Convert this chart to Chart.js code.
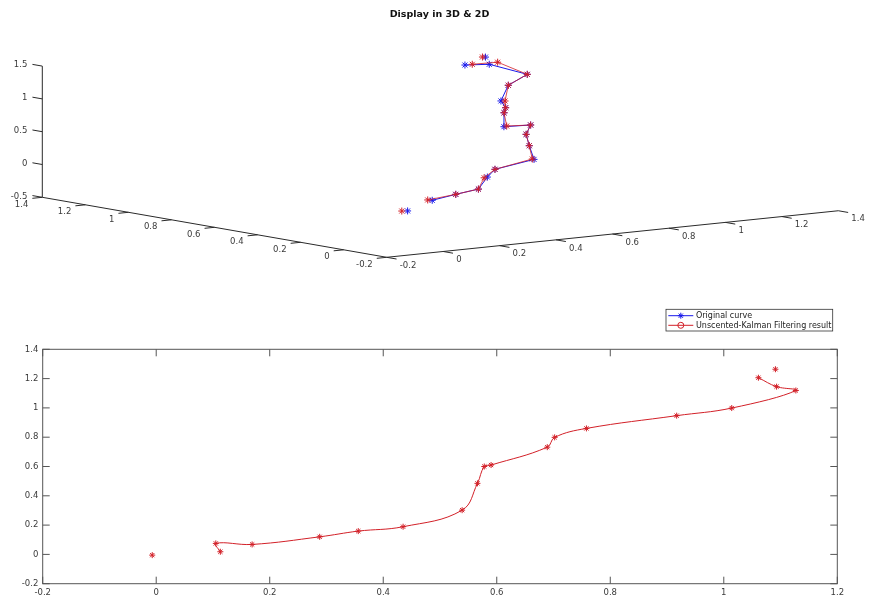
<!DOCTYPE html>
<html>
<head>
<meta charset="utf-8">
<script src="https://cdn.jsdelivr.net/npm/chart.js@4.4.0/dist/chart.umd.min.js"></script>
<style>
  html, body { margin: 0; padding: 0; background: #fff; }
  #wrap { position: relative; width: 869px; height: 601px; overflow: hidden; }
  #top3d { position: absolute; left: 0; top: 0; }
  #bottom2d { position: absolute; left: 0; top: 290px; }
</style>
</head>
<body>
<div id="wrap">
  <canvas id="top3d" width="869" height="290"></canvas>
  <canvas id="bottom2d" width="869" height="311"></canvas>
</div>
<script>
// Upper axes: 3D curve (x runs to the right, y to the left, z up)
const origX = [-0.007, 0.11, 0.288, 0.356, 0.435, 0.539, 0.566, 0.585, 0.689, 0.702, 0.73, 0.758, 0.83, 0.917, 1.014, 1.127, 1.093, 1.061, 1.091];
const origY = [-0.044, -0.005, 0.119, 0.103, 0.165, 0.266, 0.12, 0.167, 0.318, 0.314, 0.475, 0.511, 0.598, 0.734, 0.827, 0.887, 1.019, 1.09, 1.034];
const origZ = [0.032, 0.12, 0.061, 0.12, 0.233, 0.247, 0.47, 0.643, 0.684, 0.823, 0.692, 0.872, 0.867, 0.854, 0.997, 1.079, 1.172, 1.134, 1.274];

const filtX = [-0.007, 0.11, 0.288, 0.356, 0.435, 0.539, 0.566, 0.585, 0.689, 0.702, 0.73, 0.758, 0.83, 0.917, 1.014, 1.127, 1.093, 1.061, 1.091];
const filtY = [-0.017, 0.016, 0.119, 0.103, 0.18, 0.266, 0.128, 0.167, 0.318, 0.314, 0.462, 0.511, 0.598, 0.715, 0.827, 0.887, 0.98, 1.056, 1.048];
const filtZ = [0.015, 0.113, 0.061, 0.12, 0.213, 0.247, 0.471, 0.643, 0.684, 0.823, 0.71, 0.872, 0.867, 0.864, 0.997, 1.079, 1.226, 1.165, 1.267];

// Lower axes: 2D view of the filtered result
const planeX = [-0.007, 0.113, 0.105, 0.169, 0.288, 0.356, 0.435, 0.539, 0.566, 0.578, 0.590, 0.689, 0.702, 0.758, 0.917, 1.014, 1.127, 1.093, 1.061, 1.091];
const planeY = [-0.005, 0.018, 0.075, 0.068, 0.120, 0.159, 0.189, 0.302, 0.485, 0.600, 0.610, 0.732, 0.799, 0.860, 0.947, 0.999, 1.119, 1.145, 1.206, 1.264];

// tick labels
const xTicks3d = [-0.2, 0, 0.2, 0.4, 0.6, 0.8, 1, 1.2, 1.4];
const yTicks3d = [-0.2, 0, 0.2, 0.4, 0.6, 0.8, 1, 1.2, 1.4];
const zTicks3d = [-0.5, 0, 0.5, 1, 1.5];
const xTicks2d = [-0.2, 0, 0.2, 0.4, 0.6, 0.8, 1, 1.2];
const yTicks2d = [-0.2, 0, 0.2, 0.4, 0.6, 0.8, 1, 1.2, 1.4];

const seriesNames = ['Original curve', 'Unscented-Kalman Filtering result'];
const titleText = 'Display in 3D & 2D';

const BLUE = 'rgb(25,25,235)';
const RED = 'rgb(210,32,40)';
const AXIS = '#2a2a2a';
const LABEL = '#3a3a3a';
const FONT = '"DejaVu Sans", sans-serif';

// view of the 3D box: screen direction of one unit along each data axis
const viewX = [2.8225, 0.291];
const viewY = [-2.1525, 0.375];
const viewZ = [0, 0.656];
const boxMin = [xTicks3d[0], yTicks3d[0], zTicks3d[0]];

function project(x, y, z) {
    const dx = x - boxMin[0], dy = y - boxMin[1], dz = z - boxMin[2];
    return {
        x: dx * viewX[0] + dy * viewY[0] + dz * viewZ[0],
        y: dx * viewX[1] + dy * viewY[1] + dz * viewZ[1]
    };
}

function toPoints(xs, ys, zs) {
    return xs.map((x, i) => project(x, ys[i], zs[i]));
}

// first and last samples are not joined to the curve
function hideEnds(n, color) {
    return ctx => (ctx.p0DataIndex === 0 || ctx.p1DataIndex === n - 1) ? 'rgba(0,0,0,0)' : color;
}

function drawStar(ctx, x, y, r) {
    const d = r * Math.SQRT1_2;
    ctx.beginPath();
    ctx.moveTo(x - r, y); ctx.lineTo(x + r, y);
    ctx.moveTo(x, y - r); ctx.lineTo(x, y + r);
    ctx.moveTo(x - d, y - d); ctx.lineTo(x + d, y + d);
    ctx.moveTo(x - d, y + d); ctx.lineTo(x + d, y - d);
    ctx.stroke();
}

const axes3d = {
    id: 'axes3d',
    beforeDatasetsDraw(chart) {
        const { ctx } = chart;
        const sx = chart.scales.x, sy = chart.scales.y;
        const px = p => ({ x: sx.getPixelForValue(p.x), y: sy.getPixelForValue(p.y) });
        const x0 = xTicks3d[0], x1 = xTicks3d[xTicks3d.length - 1];
        const y0 = yTicks3d[0], y1 = yTicks3d[yTicks3d.length - 1];
        const z0 = zTicks3d[0], z1 = zTicks3d[zTicks3d.length - 1];

        const seg = (a, b) => {
            ctx.beginPath();
            ctx.moveTo(a.x, a.y);
            ctx.lineTo(b.x, b.y);
            ctx.stroke();
        };
        const unit = (a, b) => {
            const dx = b.x - a.x, dy = b.y - a.y, len = Math.hypot(dx, dy);
            return { x: dx / len, y: dy / len };
        };
        const o = px(project(x0, y0, z0));
        const dirX = unit(o, px(project(x1, y0, z0)));
        const dirY = unit(o, px(project(x0, y1, z0)));
        const tl = 10;

        ctx.save();
        ctx.strokeStyle = AXIS;
        ctx.lineWidth = 1;
        seg(o, px(project(x1, y0, z0)));
        seg(o, px(project(x0, y1, z0)));
        seg(px(project(x0, y1, z0)), px(project(x0, y1, z1)));

        ctx.font = '8.5px ' + FONT;
        ctx.fillStyle = LABEL;
        ctx.textBaseline = 'middle';

        // x axis (right)
        ctx.textAlign = 'left';
        xTicks3d.forEach(v => {
            const p = px(project(v, y0, z0));
            seg(p, { x: p.x - dirY.x * tl, y: p.y - dirY.y * tl });
            ctx.fillText(String(v), p.x + 13, p.y + 8.5);
        });
        // y axis (left)
        ctx.textAlign = 'right';
        yTicks3d.forEach(v => {
            const p = px(project(x0, v, z0));
            seg(p, { x: p.x - dirX.x * tl, y: p.y - dirX.y * tl });
            ctx.fillText(String(v), p.x - 14, p.y + 7);
        });
        // z axis (vertical)
        zTicks3d.forEach(v => {
            const p = px(project(x0, y1, v));
            seg(p, { x: p.x + dirY.x * tl, y: p.y + dirY.y * tl });
            ctx.fillText(String(v), p.x - 15, p.y - 1);
        });
        ctx.restore();
    }
};

const box2d = {
    id: 'box2d',
    afterDatasetsDraw(chart) {
        const { ctx, chartArea: a } = chart;
        const sx = chart.scales.x, sy = chart.scales.y;
        const tl = 7;
        ctx.save();
        ctx.strokeStyle = '#555';
        ctx.lineWidth = 1;
        ctx.strokeRect(a.left, a.top, a.right - a.left, a.bottom - a.top);
        ctx.beginPath();
        xTicks2d.forEach(v => {
            const x = sx.getPixelForValue(v);
            ctx.moveTo(x, a.bottom); ctx.lineTo(x, a.bottom - tl);
            ctx.moveTo(x, a.top); ctx.lineTo(x, a.top + tl);
        });
        yTicks2d.forEach(v => {
            const y = sy.getPixelForValue(v);
            ctx.moveTo(a.left, y); ctx.lineTo(a.left + tl, y);
            ctx.moveTo(a.right, y); ctx.lineTo(a.right - tl, y);
        });
        ctx.stroke();

        // legend box
        const lx = 666, ly = 19.3, lw = 166.7, lh = 21.7;
        ctx.fillStyle = '#fff';
        ctx.fillRect(lx, ly, lw, lh);
        ctx.strokeStyle = '#333';
        ctx.lineWidth = 0.8;
        ctx.strokeRect(lx, ly, lw, lh);
        const rows = [
            { name: seriesNames[0], color: BLUE, marker: 'star' },
            { name: seriesNames[1], color: RED, marker: 'circle' }
        ];
        ctx.font = '8px ' + FONT;
        ctx.textAlign = 'left';
        ctx.textBaseline = 'middle';
        rows.forEach((r, i) => {
            const y = ly + 6.4 + i * 9.6;
            ctx.strokeStyle = r.color;
            ctx.lineWidth = 1;
            ctx.beginPath();
            ctx.moveTo(lx + 2.3, y); ctx.lineTo(lx + 27.3, y);
            ctx.stroke();
            if (r.marker === 'star') {
                drawStar(ctx, lx + 14.8, y, 3);
            } else {
                ctx.beginPath();
                ctx.arc(lx + 14.8, y, 3, 0, Math.PI * 2);
                ctx.stroke();
            }
            ctx.fillStyle = '#222';
            ctx.fillText(r.name, lx + 30, y + 0.5);
        });
        ctx.restore();
    }
};

new Chart(document.getElementById('top3d'), {
    type: 'scatter',
    data: {
        datasets: [{
            label: seriesNames[1],
            data: toPoints(filtX, filtY, filtZ),
            showLine: true,
            borderColor: RED,
            borderWidth: 0.8,
            pointStyle: 'star',
            pointRadius: 3.5,
            pointBorderColor: RED,
            pointBorderWidth: 1,
            order: 0,
            segment: { borderColor: hideEnds(filtX.length, RED) }
        }, {
            label: seriesNames[0],
            data: toPoints(origX, origY, origZ),
            showLine: true,
            borderColor: BLUE,
            borderWidth: 1,
            pointStyle: 'star',
            pointRadius: 3.5,
            pointBorderColor: BLUE,
            pointBorderWidth: 1,
            order: 1,
            segment: { borderColor: hideEnds(origX.length, BLUE) }
        }]
    },
    options: {
        responsive: false,
        animation: false,
        devicePixelRatio: 1,
        layout: { padding: { left: 10, right: 0, top: 0, bottom: 0 }, autoPadding: false },
        plugins: {
            legend: { display: false },
            tooltip: { enabled: false },
            title: {
                display: true,
                text: titleText,
                color: '#111',
                font: { family: FONT, size: 9.5, weight: 'bold' },
                padding: { top: 8.6, bottom: 4 }
            }
        },
        scales: {
            x: { type: 'linear', display: false, min: -3.767, max: 4.823 },
            y: { type: 'linear', display: false, min: -0.327, max: 2.333 }
        }
    },
    plugins: [axes3d]
});

new Chart(document.getElementById('bottom2d'), {
    type: 'scatter',
    data: {
        datasets: [{
            label: 'curve',
            data: planeX.slice(1, -1).map((x, i) => ({ x: x, y: planeY[i + 1] })),
            showLine: true,
            tension: 0.4,
            borderColor: RED,
            borderWidth: 1,
            pointRadius: 0,
            order: 1
        }, {
            label: 'points',
            data: planeX.map((x, i) => ({ x: x, y: planeY[i] })),
            showLine: false,
            pointStyle: 'star',
            pointRadius: 3,
            pointBorderColor: RED,
            pointBorderWidth: 1,
            order: 0
        }]
    },
    options: {
        responsive: false,
        animation: false,
        devicePixelRatio: 1,
        layout: { padding: { left: 0, right: 31.7, top: 59.3, bottom: 0 }, autoPadding: false },
        plugins: { legend: { display: false }, tooltip: { enabled: false } },
        scales: {
            x: {
                type: 'linear',
                min: xTicks2d[0],
                max: xTicks2d[xTicks2d.length - 1],
                afterBuildTicks: s => { s.ticks = xTicks2d.map(v => ({ value: v })); },
                afterFit: s => { s.height = 17.3; },
                grid: { display: false, drawTicks: false },
                border: { display: false },
                ticks: {
                    font: { family: FONT, size: 8.5 },
                    color: LABEL,
                    padding: 4,
                    maxRotation: 0,
                    autoSkip: false,
                    callback: v => String(v)
                }
            },
            y: {
                type: 'linear',
                min: yTicks2d[0],
                max: yTicks2d[yTicks2d.length - 1],
                afterBuildTicks: s => { s.ticks = yTicks2d.map(v => ({ value: v })); },
                afterFit: s => { s.width = 42.7; },
                grid: { display: false, drawTicks: false },
                border: { display: false },
                ticks: {
                    font: { family: FONT, size: 8.5 },
                    color: LABEL,
                    padding: 4.4,
                    autoSkip: false,
                    callback: v => String(v)
                }
            }
        }
    },
    plugins: [box2d]
});
</script>
</body>
</html>
